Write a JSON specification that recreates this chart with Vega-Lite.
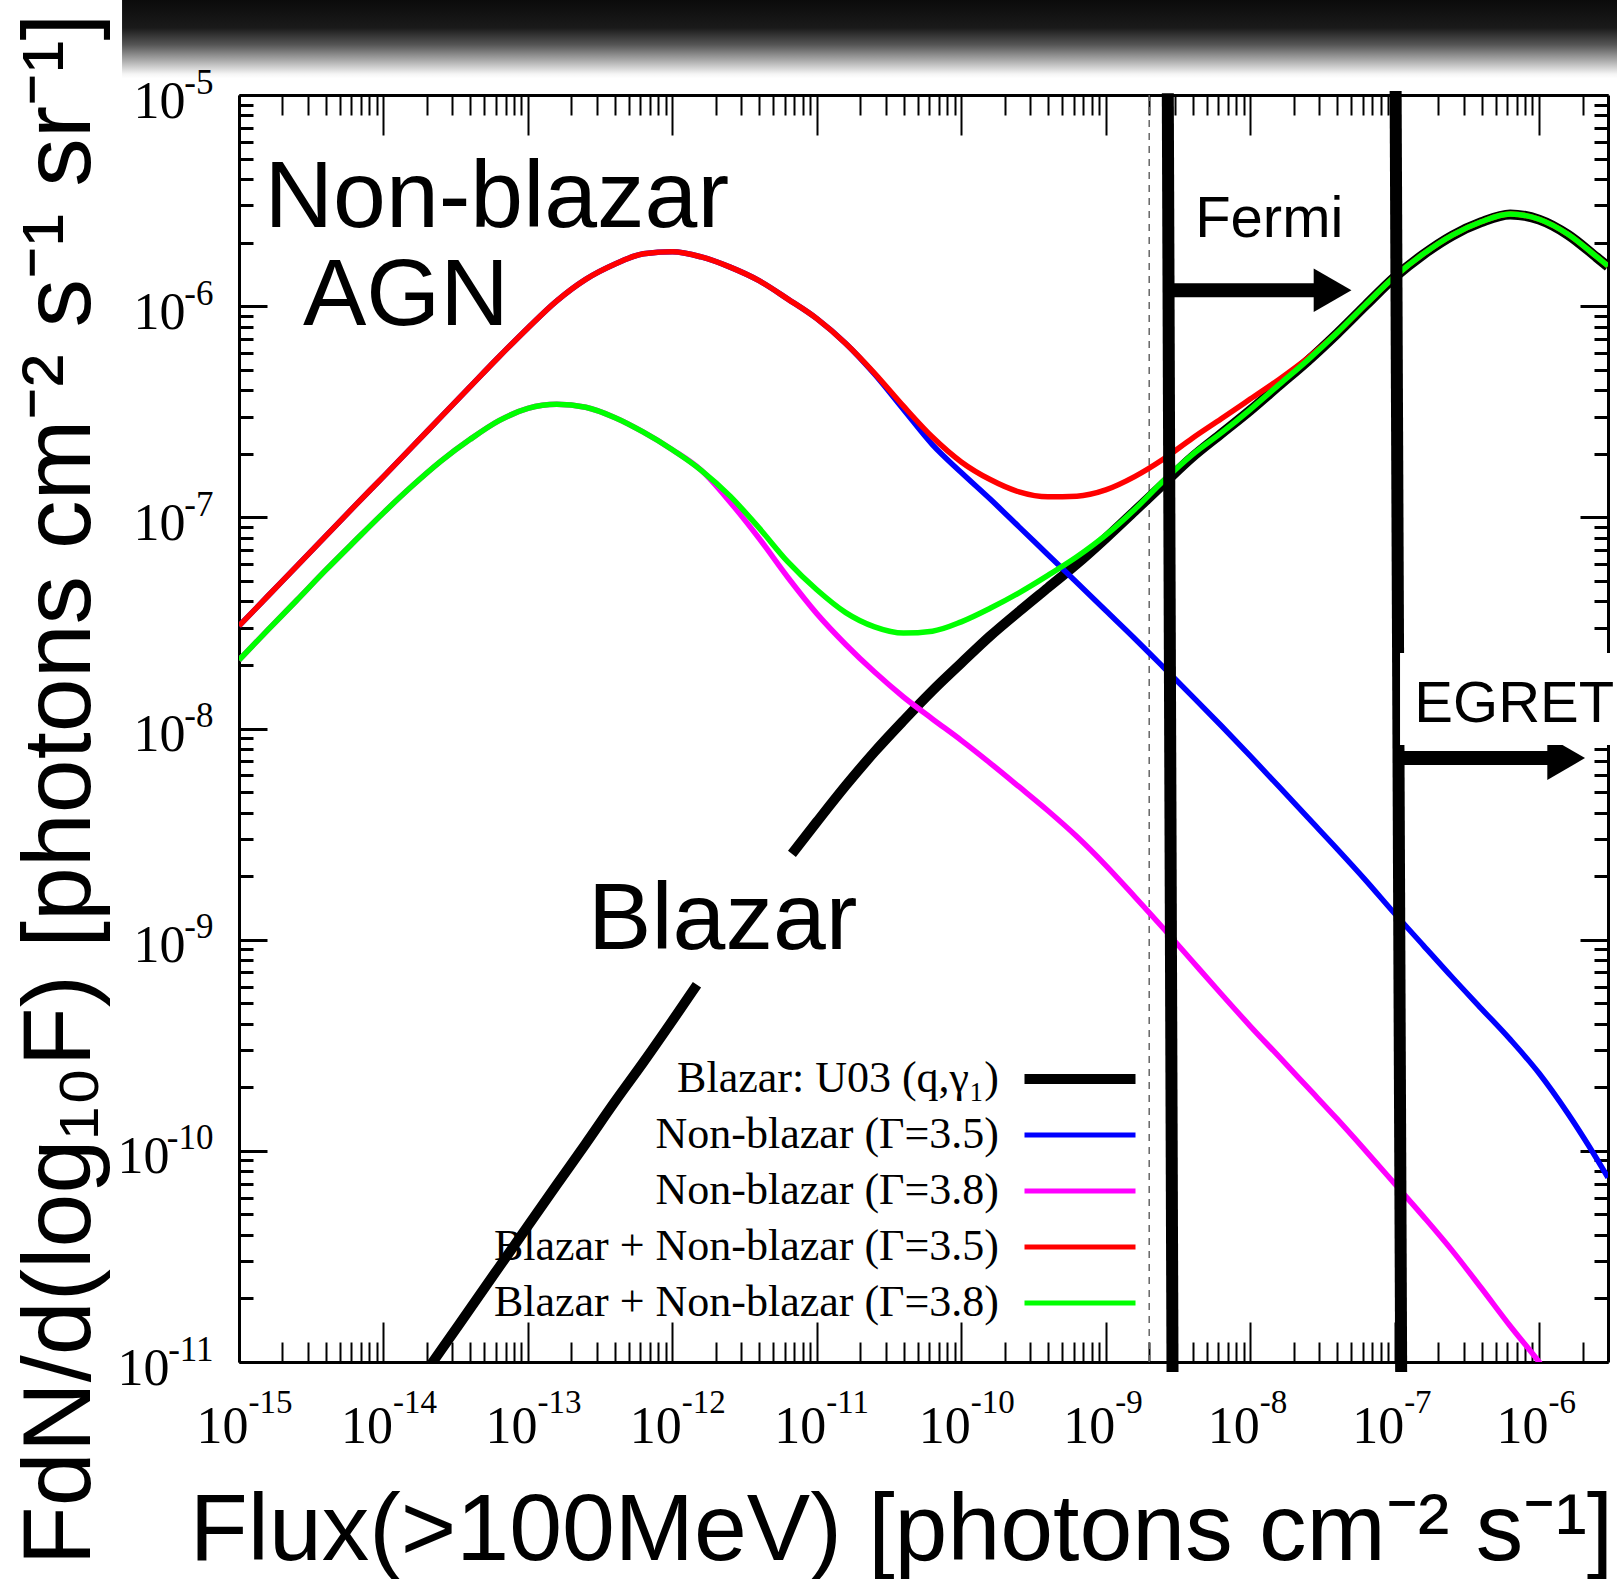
{
  "$schema": "https://vega.github.io/schema/vega-lite/v6.json",
  "width": 1369,
  "height": 1267,
  "autosize": "none",
  "padding": {"left": 239, "top": 95, "right": 9, "bottom": 217},
  "background": "white",
  "config": {
    "view": {"stroke": null},
    "axis": {"grid": false, "domainColor": "black", "tickColor": "black", "labelColor": "black", "titleColor": "black"}
  },
  "datasets": {
    "curves": [
      {"series": "Blazar: U03 (q,γ₁)", "seg": 1, "flux": 1.585e-14, "fdn": 7.29e-12},
      {"series": "Blazar: U03 (q,γ₁)", "seg": 1, "flux": 2.512e-14, "fdn": 1.14e-11},
      {"series": "Blazar: U03 (q,γ₁)", "seg": 1, "flux": 3.981e-14, "fdn": 1.79e-11},
      {"series": "Blazar: U03 (q,γ₁)", "seg": 1, "flux": 6.31e-14, "fdn": 2.81e-11},
      {"series": "Blazar: U03 (q,γ₁)", "seg": 1, "flux": 1e-13, "fdn": 4.41e-11},
      {"series": "Blazar: U03 (q,γ₁)", "seg": 1, "flux": 1.585e-13, "fdn": 6.91e-11},
      {"series": "Blazar: U03 (q,γ₁)", "seg": 1, "flux": 2.512e-13, "fdn": 1.08e-10},
      {"series": "Blazar: U03 (q,γ₁)", "seg": 1, "flux": 3.981e-13, "fdn": 1.7e-10},
      {"series": "Blazar: U03 (q,γ₁)", "seg": 1, "flux": 6.31e-13, "fdn": 2.63e-10},
      {"series": "Blazar: U03 (q,γ₁)", "seg": 1, "flux": 1e-12, "fdn": 4.13e-10},
      {"series": "Blazar: U03 (q,γ₁)", "seg": 1, "flux": 1.48e-12, "fdn": 6.12e-10},
      {"series": "Blazar: U03 (q,γ₁)", "seg": 2, "flux": 6.73e-12, "fdn": 2.55e-9},
      {"series": "Blazar: U03 (q,γ₁)", "seg": 2, "flux": 1e-11, "fdn": 3.61e-9},
      {"series": "Blazar: U03 (q,γ₁)", "seg": 2, "flux": 1.585e-11, "fdn": 5.36e-9},
      {"series": "Blazar: U03 (q,γ₁)", "seg": 2, "flux": 2.512e-11, "fdn": 7.76e-9},
      {"series": "Blazar: U03 (q,γ₁)", "seg": 2, "flux": 3.981e-11, "fdn": 1.09e-8},
      {"series": "Blazar: U03 (q,γ₁)", "seg": 2, "flux": 6.31e-11, "fdn": 1.51e-8},
      {"series": "Blazar: U03 (q,γ₁)", "seg": 2, "flux": 1e-10, "fdn": 2.04e-8},
      {"series": "Blazar: U03 (q,γ₁)", "seg": 2, "flux": 1.585e-10, "fdn": 2.74e-8},
      {"series": "Blazar: U03 (q,γ₁)", "seg": 2, "flux": 2.512e-10, "fdn": 3.58e-8},
      {"series": "Blazar: U03 (q,γ₁)", "seg": 2, "flux": 3.981e-10, "fdn": 4.64e-8},
      {"series": "Blazar: U03 (q,γ₁)", "seg": 2, "flux": 6.31e-10, "fdn": 6.01e-8},
      {"series": "Blazar: U03 (q,γ₁)", "seg": 2, "flux": 1e-9, "fdn": 7.96e-8},
      {"series": "Blazar: U03 (q,γ₁)", "seg": 2, "flux": 1.585e-9, "fdn": 1.07e-7},
      {"series": "Blazar: U03 (q,γ₁)", "seg": 2, "flux": 2.512e-9, "fdn": 1.44e-7},
      {"series": "Blazar: U03 (q,γ₁)", "seg": 2, "flux": 3.981e-9, "fdn": 1.93e-7},
      {"series": "Blazar: U03 (q,γ₁)", "seg": 2, "flux": 6.31e-9, "fdn": 2.49e-7},
      {"series": "Blazar: U03 (q,γ₁)", "seg": 2, "flux": 1e-8, "fdn": 3.21e-7},
      {"series": "Blazar: U03 (q,γ₁)", "seg": 2, "flux": 1.585e-8, "fdn": 4.21e-7},
      {"series": "Blazar: U03 (q,γ₁)", "seg": 2, "flux": 2.512e-8, "fdn": 5.52e-7},
      {"series": "Blazar: U03 (q,γ₁)", "seg": 2, "flux": 3.981e-8, "fdn": 7.4e-7},
      {"series": "Blazar: U03 (q,γ₁)", "seg": 2, "flux": 6.31e-8, "fdn": 1.01e-6},
      {"series": "Blazar: U03 (q,γ₁)", "seg": 2, "flux": 1e-7, "fdn": 1.37e-6},
      {"series": "Blazar: U03 (q,γ₁)", "seg": 2, "flux": 1.585e-7, "fdn": 1.76e-6},
      {"series": "Blazar: U03 (q,γ₁)", "seg": 2, "flux": 2.512e-7, "fdn": 2.16e-6},
      {"series": "Blazar: U03 (q,γ₁)", "seg": 2, "flux": 3.981e-7, "fdn": 2.5e-6},
      {"series": "Blazar: U03 (q,γ₁)", "seg": 2, "flux": 6.31e-7, "fdn": 2.72e-6},
      {"series": "Blazar: U03 (q,γ₁)", "seg": 2, "flux": 1e-6, "fdn": 2.57e-6},
      {"series": "Blazar: U03 (q,γ₁)", "seg": 2, "flux": 1.585e-6, "fdn": 2.18e-6},
      {"series": "Blazar: U03 (q,γ₁)", "seg": 2, "flux": 2.512e-6, "fdn": 1.7e-6},
      {"series": "Blazar: U03 (q,γ₁)", "seg": 2, "flux": 3e-6, "fdn": 1.54e-6},

      {"series": "Non-blazar (Γ=3.5)", "flux": 1e-15, "fdn": 3.06e-8},
      {"series": "Non-blazar (Γ=3.5)", "flux": 1.585e-15, "fdn": 4.24e-8},
      {"series": "Non-blazar (Γ=3.5)", "flux": 2.512e-15, "fdn": 5.87e-8},
      {"series": "Non-blazar (Γ=3.5)", "flux": 3.981e-15, "fdn": 8.14e-8},
      {"series": "Non-blazar (Γ=3.5)", "flux": 6.31e-15, "fdn": 1.13e-7},
      {"series": "Non-blazar (Γ=3.5)", "flux": 1e-14, "fdn": 1.56e-7},
      {"series": "Non-blazar (Γ=3.5)", "flux": 1.585e-14, "fdn": 2.16e-7},
      {"series": "Non-blazar (Γ=3.5)", "flux": 2.512e-14, "fdn": 3.0e-7},
      {"series": "Non-blazar (Γ=3.5)", "flux": 3.981e-14, "fdn": 4.16e-7},
      {"series": "Non-blazar (Γ=3.5)", "flux": 6.31e-14, "fdn": 5.76e-7},
      {"series": "Non-blazar (Γ=3.5)", "flux": 1e-13, "fdn": 7.89e-7},
      {"series": "Non-blazar (Γ=3.5)", "flux": 1.585e-13, "fdn": 1.06e-6},
      {"series": "Non-blazar (Γ=3.5)", "flux": 2.512e-13, "fdn": 1.34e-6},
      {"series": "Non-blazar (Γ=3.5)", "flux": 3.981e-13, "fdn": 1.58e-6},
      {"series": "Non-blazar (Γ=3.5)", "flux": 6.31e-13, "fdn": 1.77e-6},
      {"series": "Non-blazar (Γ=3.5)", "flux": 1e-12, "fdn": 1.81e-6},
      {"series": "Non-blazar (Γ=3.5)", "flux": 1.585e-12, "fdn": 1.71e-6},
      {"series": "Non-blazar (Γ=3.5)", "flux": 2.512e-12, "fdn": 1.53e-6},
      {"series": "Non-blazar (Γ=3.5)", "flux": 3.981e-12, "fdn": 1.32e-6},
      {"series": "Non-blazar (Γ=3.5)", "flux": 6.31e-12, "fdn": 1.08e-6},
      {"series": "Non-blazar (Γ=3.5)", "flux": 1e-11, "fdn": 8.73e-7},
      {"series": "Non-blazar (Γ=3.5)", "flux": 1.585e-11, "fdn": 6.66e-7},
      {"series": "Non-blazar (Γ=3.5)", "flux": 2.512e-11, "fdn": 4.76e-7},
      {"series": "Non-blazar (Γ=3.5)", "flux": 3.981e-11, "fdn": 3.24e-7},
      {"series": "Non-blazar (Γ=3.5)", "flux": 6.31e-11, "fdn": 2.21e-7},
      {"series": "Non-blazar (Γ=3.5)", "flux": 1e-10, "fdn": 1.63e-7},
      {"series": "Non-blazar (Γ=3.5)", "flux": 1.585e-10, "fdn": 1.22e-7},
      {"series": "Non-blazar (Γ=3.5)", "flux": 2.512e-10, "fdn": 9.01e-8},
      {"series": "Non-blazar (Γ=3.5)", "flux": 3.981e-10, "fdn": 6.65e-8},
      {"series": "Non-blazar (Γ=3.5)", "flux": 6.31e-10, "fdn": 4.91e-8},
      {"series": "Non-blazar (Γ=3.5)", "flux": 1e-9, "fdn": 3.62e-8},
      {"series": "Non-blazar (Γ=3.5)", "flux": 1.585e-9, "fdn": 2.67e-8},
      {"series": "Non-blazar (Γ=3.5)", "flux": 2.512e-9, "fdn": 1.95e-8},
      {"series": "Non-blazar (Γ=3.5)", "flux": 3.981e-9, "fdn": 1.42e-8},
      {"series": "Non-blazar (Γ=3.5)", "flux": 6.31e-9, "fdn": 1.03e-8},
      {"series": "Non-blazar (Γ=3.5)", "flux": 1e-8, "fdn": 7.42e-9},
      {"series": "Non-blazar (Γ=3.5)", "flux": 1.585e-8, "fdn": 5.3e-9},
      {"series": "Non-blazar (Γ=3.5)", "flux": 2.512e-8, "fdn": 3.78e-9},
      {"series": "Non-blazar (Γ=3.5)", "flux": 3.981e-8, "fdn": 2.7e-9},
      {"series": "Non-blazar (Γ=3.5)", "flux": 6.31e-8, "fdn": 1.91e-9},
      {"series": "Non-blazar (Γ=3.5)", "flux": 1e-7, "fdn": 1.33e-9},
      {"series": "Non-blazar (Γ=3.5)", "flux": 1.585e-7, "fdn": 9.38e-10},
      {"series": "Non-blazar (Γ=3.5)", "flux": 2.512e-7, "fdn": 6.62e-10},
      {"series": "Non-blazar (Γ=3.5)", "flux": 3.981e-7, "fdn": 4.72e-10},
      {"series": "Non-blazar (Γ=3.5)", "flux": 6.31e-7, "fdn": 3.37e-10},
      {"series": "Non-blazar (Γ=3.5)", "flux": 1e-6, "fdn": 2.33e-10},
      {"series": "Non-blazar (Γ=3.5)", "flux": 1.585e-6, "fdn": 1.5e-10},
      {"series": "Non-blazar (Γ=3.5)", "flux": 2.512e-6, "fdn": 9.15e-11},
      {"series": "Non-blazar (Γ=3.5)", "flux": 3e-6, "fdn": 7.47e-11},

      {"series": "Non-blazar (Γ=3.8)", "flux": 1e-15, "fdn": 2.11e-8},
      {"series": "Non-blazar (Γ=3.8)", "flux": 1.585e-15, "fdn": 2.93e-8},
      {"series": "Non-blazar (Γ=3.8)", "flux": 2.512e-15, "fdn": 4.05e-8},
      {"series": "Non-blazar (Γ=3.8)", "flux": 3.981e-15, "fdn": 5.62e-8},
      {"series": "Non-blazar (Γ=3.8)", "flux": 6.31e-15, "fdn": 7.7e-8},
      {"series": "Non-blazar (Γ=3.8)", "flux": 1e-14, "fdn": 1.05e-7},
      {"series": "Non-blazar (Γ=3.8)", "flux": 1.585e-14, "fdn": 1.41e-7},
      {"series": "Non-blazar (Γ=3.8)", "flux": 2.512e-14, "fdn": 1.85e-7},
      {"series": "Non-blazar (Γ=3.8)", "flux": 3.981e-14, "fdn": 2.34e-7},
      {"series": "Non-blazar (Γ=3.8)", "flux": 6.31e-14, "fdn": 2.87e-7},
      {"series": "Non-blazar (Γ=3.8)", "flux": 1e-13, "fdn": 3.28e-7},
      {"series": "Non-blazar (Γ=3.8)", "flux": 1.585e-13, "fdn": 3.43e-7},
      {"series": "Non-blazar (Γ=3.8)", "flux": 2.512e-13, "fdn": 3.32e-7},
      {"series": "Non-blazar (Γ=3.8)", "flux": 3.981e-13, "fdn": 2.97e-7},
      {"series": "Non-blazar (Γ=3.8)", "flux": 6.31e-13, "fdn": 2.53e-7},
      {"series": "Non-blazar (Γ=3.8)", "flux": 1e-12, "fdn": 2.09e-7},
      {"series": "Non-blazar (Γ=3.8)", "flux": 1.585e-12, "fdn": 1.67e-7},
      {"series": "Non-blazar (Γ=3.8)", "flux": 2.512e-12, "fdn": 1.18e-7},
      {"series": "Non-blazar (Γ=3.8)", "flux": 3.981e-12, "fdn": 7.96e-8},
      {"series": "Non-blazar (Γ=3.8)", "flux": 6.31e-12, "fdn": 5.19e-8},
      {"series": "Non-blazar (Γ=3.8)", "flux": 1e-11, "fdn": 3.5e-8},
      {"series": "Non-blazar (Γ=3.8)", "flux": 1.585e-11, "fdn": 2.5e-8},
      {"series": "Non-blazar (Γ=3.8)", "flux": 2.512e-11, "fdn": 1.85e-8},
      {"series": "Non-blazar (Γ=3.8)", "flux": 3.981e-11, "fdn": 1.41e-8},
      {"series": "Non-blazar (Γ=3.8)", "flux": 6.31e-11, "fdn": 1.11e-8},
      {"series": "Non-blazar (Γ=3.8)", "flux": 1e-10, "fdn": 8.79e-9},
      {"series": "Non-blazar (Γ=3.8)", "flux": 1.585e-10, "fdn": 6.86e-9},
      {"series": "Non-blazar (Γ=3.8)", "flux": 2.512e-10, "fdn": 5.3e-9},
      {"series": "Non-blazar (Γ=3.8)", "flux": 3.981e-10, "fdn": 4.08e-9},
      {"series": "Non-blazar (Γ=3.8)", "flux": 6.31e-10, "fdn": 3.08e-9},
      {"series": "Non-blazar (Γ=3.8)", "flux": 1e-9, "fdn": 2.25e-9},
      {"series": "Non-blazar (Γ=3.8)", "flux": 1.585e-9, "fdn": 1.6e-9},
      {"series": "Non-blazar (Γ=3.8)", "flux": 2.512e-9, "fdn": 1.13e-9},
      {"series": "Non-blazar (Γ=3.8)", "flux": 3.981e-9, "fdn": 7.9e-10},
      {"series": "Non-blazar (Γ=3.8)", "flux": 6.31e-9, "fdn": 5.53e-10},
      {"series": "Non-blazar (Γ=3.8)", "flux": 1e-8, "fdn": 3.9e-10},
      {"series": "Non-blazar (Γ=3.8)", "flux": 1.585e-8, "fdn": 2.79e-10},
      {"series": "Non-blazar (Γ=3.8)", "flux": 2.512e-8, "fdn": 1.99e-10},
      {"series": "Non-blazar (Γ=3.8)", "flux": 3.981e-8, "fdn": 1.42e-10},
      {"series": "Non-blazar (Γ=3.8)", "flux": 6.31e-8, "fdn": 1.0e-10},
      {"series": "Non-blazar (Γ=3.8)", "flux": 1e-7, "fdn": 6.99e-11},
      {"series": "Non-blazar (Γ=3.8)", "flux": 1.585e-7, "fdn": 4.88e-11},
      {"series": "Non-blazar (Γ=3.8)", "flux": 2.512e-7, "fdn": 3.36e-11},
      {"series": "Non-blazar (Γ=3.8)", "flux": 3.981e-7, "fdn": 2.24e-11},
      {"series": "Non-blazar (Γ=3.8)", "flux": 6.31e-7, "fdn": 1.48e-11},
      {"series": "Non-blazar (Γ=3.8)", "flux": 1e-6, "fdn": 1.0e-11},
      {"series": "Non-blazar (Γ=3.8)", "flux": 1.585e-6, "fdn": 6.5e-12},

      {"series": "Blazar + Non-blazar (Γ=3.5)", "flux": 1e-15, "fdn": 3.06e-8},
      {"series": "Blazar + Non-blazar (Γ=3.5)", "flux": 1.585e-15, "fdn": 4.24e-8},
      {"series": "Blazar + Non-blazar (Γ=3.5)", "flux": 2.512e-15, "fdn": 5.87e-8},
      {"series": "Blazar + Non-blazar (Γ=3.5)", "flux": 3.981e-15, "fdn": 8.14e-8},
      {"series": "Blazar + Non-blazar (Γ=3.5)", "flux": 6.31e-15, "fdn": 1.13e-7},
      {"series": "Blazar + Non-blazar (Γ=3.5)", "flux": 1e-14, "fdn": 1.56e-7},
      {"series": "Blazar + Non-blazar (Γ=3.5)", "flux": 1.585e-14, "fdn": 2.16e-7},
      {"series": "Blazar + Non-blazar (Γ=3.5)", "flux": 2.512e-14, "fdn": 3.0e-7},
      {"series": "Blazar + Non-blazar (Γ=3.5)", "flux": 3.981e-14, "fdn": 4.16e-7},
      {"series": "Blazar + Non-blazar (Γ=3.5)", "flux": 6.31e-14, "fdn": 5.76e-7},
      {"series": "Blazar + Non-blazar (Γ=3.5)", "flux": 1e-13, "fdn": 7.89e-7},
      {"series": "Blazar + Non-blazar (Γ=3.5)", "flux": 1.585e-13, "fdn": 1.06e-6},
      {"series": "Blazar + Non-blazar (Γ=3.5)", "flux": 2.512e-13, "fdn": 1.34e-6},
      {"series": "Blazar + Non-blazar (Γ=3.5)", "flux": 3.981e-13, "fdn": 1.58e-6},
      {"series": "Blazar + Non-blazar (Γ=3.5)", "flux": 6.31e-13, "fdn": 1.77e-6},
      {"series": "Blazar + Non-blazar (Γ=3.5)", "flux": 1e-12, "fdn": 1.81e-6},
      {"series": "Blazar + Non-blazar (Γ=3.5)", "flux": 1.585e-12, "fdn": 1.71e-6},
      {"series": "Blazar + Non-blazar (Γ=3.5)", "flux": 2.512e-12, "fdn": 1.53e-6},
      {"series": "Blazar + Non-blazar (Γ=3.5)", "flux": 3.981e-12, "fdn": 1.32e-6},
      {"series": "Blazar + Non-blazar (Γ=3.5)", "flux": 6.31e-12, "fdn": 1.08e-6},
      {"series": "Blazar + Non-blazar (Γ=3.5)", "flux": 1e-11, "fdn": 8.73e-7},
      {"series": "Blazar + Non-blazar (Γ=3.5)", "flux": 1.585e-11, "fdn": 6.66e-7},
      {"series": "Blazar + Non-blazar (Γ=3.5)", "flux": 2.512e-11, "fdn": 4.81e-7},
      {"series": "Blazar + Non-blazar (Γ=3.5)", "flux": 3.981e-11, "fdn": 3.36e-7},
      {"series": "Blazar + Non-blazar (Γ=3.5)", "flux": 6.31e-11, "fdn": 2.4e-7},
      {"series": "Blazar + Non-blazar (Γ=3.5)", "flux": 1e-10, "fdn": 1.83e-7},
      {"series": "Blazar + Non-blazar (Γ=3.5)", "flux": 1.585e-10, "fdn": 1.51e-7},
      {"series": "Blazar + Non-blazar (Γ=3.5)", "flux": 2.512e-10, "fdn": 1.32e-7},
      {"series": "Blazar + Non-blazar (Γ=3.5)", "flux": 3.981e-10, "fdn": 1.25e-7},
      {"series": "Blazar + Non-blazar (Γ=3.5)", "flux": 6.31e-10, "fdn": 1.26e-7},
      {"series": "Blazar + Non-blazar (Γ=3.5)", "flux": 1e-9, "fdn": 1.35e-7},
      {"series": "Blazar + Non-blazar (Γ=3.5)", "flux": 1.585e-9, "fdn": 1.56e-7},
      {"series": "Blazar + Non-blazar (Γ=3.5)", "flux": 2.512e-9, "fdn": 1.89e-7},
      {"series": "Blazar + Non-blazar (Γ=3.5)", "flux": 3.981e-9, "fdn": 2.37e-7},
      {"series": "Blazar + Non-blazar (Γ=3.5)", "flux": 6.31e-9, "fdn": 2.93e-7},
      {"series": "Blazar + Non-blazar (Γ=3.5)", "flux": 1e-8, "fdn": 3.63e-7},
      {"series": "Blazar + Non-blazar (Γ=3.5)", "flux": 1.585e-8, "fdn": 4.5e-7},
      {"series": "Blazar + Non-blazar (Γ=3.5)", "flux": 2.512e-8, "fdn": 5.69e-7},
      {"series": "Blazar + Non-blazar (Γ=3.5)", "flux": 3.981e-8, "fdn": 7.46e-7},
      {"series": "Blazar + Non-blazar (Γ=3.5)", "flux": 6.31e-8, "fdn": 1.02e-6},
      {"series": "Blazar + Non-blazar (Γ=3.5)", "flux": 1e-7, "fdn": 1.38e-6},
      {"series": "Blazar + Non-blazar (Γ=3.5)", "flux": 1.585e-7, "fdn": 1.77e-6},
      {"series": "Blazar + Non-blazar (Γ=3.5)", "flux": 2.512e-7, "fdn": 2.17e-6},
      {"series": "Blazar + Non-blazar (Γ=3.5)", "flux": 3.981e-7, "fdn": 2.51e-6},
      {"series": "Blazar + Non-blazar (Γ=3.5)", "flux": 6.31e-7, "fdn": 2.73e-6},
      {"series": "Blazar + Non-blazar (Γ=3.5)", "flux": 1e-6, "fdn": 2.58e-6},
      {"series": "Blazar + Non-blazar (Γ=3.5)", "flux": 1.585e-6, "fdn": 2.19e-6},
      {"series": "Blazar + Non-blazar (Γ=3.5)", "flux": 2.512e-6, "fdn": 1.71e-6},
      {"series": "Blazar + Non-blazar (Γ=3.5)", "flux": 3e-6, "fdn": 1.55e-6},

      {"series": "Blazar + Non-blazar (Γ=3.8)", "flux": 1e-15, "fdn": 2.11e-8},
      {"series": "Blazar + Non-blazar (Γ=3.8)", "flux": 1.585e-15, "fdn": 2.93e-8},
      {"series": "Blazar + Non-blazar (Γ=3.8)", "flux": 2.512e-15, "fdn": 4.05e-8},
      {"series": "Blazar + Non-blazar (Γ=3.8)", "flux": 3.981e-15, "fdn": 5.62e-8},
      {"series": "Blazar + Non-blazar (Γ=3.8)", "flux": 6.31e-15, "fdn": 7.7e-8},
      {"series": "Blazar + Non-blazar (Γ=3.8)", "flux": 1e-14, "fdn": 1.05e-7},
      {"series": "Blazar + Non-blazar (Γ=3.8)", "flux": 1.585e-14, "fdn": 1.41e-7},
      {"series": "Blazar + Non-blazar (Γ=3.8)", "flux": 2.512e-14, "fdn": 1.85e-7},
      {"series": "Blazar + Non-blazar (Γ=3.8)", "flux": 3.981e-14, "fdn": 2.34e-7},
      {"series": "Blazar + Non-blazar (Γ=3.8)", "flux": 6.31e-14, "fdn": 2.87e-7},
      {"series": "Blazar + Non-blazar (Γ=3.8)", "flux": 1e-13, "fdn": 3.28e-7},
      {"series": "Blazar + Non-blazar (Γ=3.8)", "flux": 1.585e-13, "fdn": 3.43e-7},
      {"series": "Blazar + Non-blazar (Γ=3.8)", "flux": 2.512e-13, "fdn": 3.32e-7},
      {"series": "Blazar + Non-blazar (Γ=3.8)", "flux": 3.981e-13, "fdn": 2.97e-7},
      {"series": "Blazar + Non-blazar (Γ=3.8)", "flux": 6.31e-13, "fdn": 2.53e-7},
      {"series": "Blazar + Non-blazar (Γ=3.8)", "flux": 1e-12, "fdn": 2.09e-7},
      {"series": "Blazar + Non-blazar (Γ=3.8)", "flux": 1.585e-12, "fdn": 1.67e-7},
      {"series": "Blazar + Non-blazar (Γ=3.8)", "flux": 2.512e-12, "fdn": 1.26e-7},
      {"series": "Blazar + Non-blazar (Γ=3.8)", "flux": 3.981e-12, "fdn": 8.91e-8},
      {"series": "Blazar + Non-blazar (Γ=3.8)", "flux": 6.31e-12, "fdn": 6.15e-8},
      {"series": "Blazar + Non-blazar (Γ=3.8)", "flux": 1e-11, "fdn": 4.54e-8},
      {"series": "Blazar + Non-blazar (Γ=3.8)", "flux": 1.585e-11, "fdn": 3.54e-8},
      {"series": "Blazar + Non-blazar (Γ=3.8)", "flux": 2.512e-11, "fdn": 3.03e-8},
      {"series": "Blazar + Non-blazar (Γ=3.8)", "flux": 3.981e-11, "fdn": 2.83e-8},
      {"series": "Blazar + Non-blazar (Γ=3.8)", "flux": 6.31e-11, "fdn": 2.89e-8},
      {"series": "Blazar + Non-blazar (Γ=3.8)", "flux": 1e-10, "fdn": 3.2e-8},
      {"series": "Blazar + Non-blazar (Γ=3.8)", "flux": 1.585e-10, "fdn": 3.71e-8},
      {"series": "Blazar + Non-blazar (Γ=3.8)", "flux": 2.512e-10, "fdn": 4.39e-8},
      {"series": "Blazar + Non-blazar (Γ=3.8)", "flux": 3.981e-10, "fdn": 5.31e-8},
      {"series": "Blazar + Non-blazar (Γ=3.8)", "flux": 6.31e-10, "fdn": 6.5e-8},
      {"series": "Blazar + Non-blazar (Γ=3.8)", "flux": 1e-9, "fdn": 8.23e-8},
      {"series": "Blazar + Non-blazar (Γ=3.8)", "flux": 1.585e-9, "fdn": 1.09e-7},
      {"series": "Blazar + Non-blazar (Γ=3.8)", "flux": 2.512e-9, "fdn": 1.49e-7},
      {"series": "Blazar + Non-blazar (Γ=3.8)", "flux": 3.981e-9, "fdn": 1.98e-7},
      {"series": "Blazar + Non-blazar (Γ=3.8)", "flux": 6.31e-9, "fdn": 2.51e-7},
      {"series": "Blazar + Non-blazar (Γ=3.8)", "flux": 1e-8, "fdn": 3.24e-7},
      {"series": "Blazar + Non-blazar (Γ=3.8)", "flux": 1.585e-8, "fdn": 4.25e-7},
      {"series": "Blazar + Non-blazar (Γ=3.8)", "flux": 2.512e-8, "fdn": 5.57e-7},
      {"series": "Blazar + Non-blazar (Γ=3.8)", "flux": 3.981e-8, "fdn": 7.46e-7},
      {"series": "Blazar + Non-blazar (Γ=3.8)", "flux": 6.31e-8, "fdn": 1.02e-6},
      {"series": "Blazar + Non-blazar (Γ=3.8)", "flux": 1e-7, "fdn": 1.38e-6},
      {"series": "Blazar + Non-blazar (Γ=3.8)", "flux": 1.585e-7, "fdn": 1.77e-6},
      {"series": "Blazar + Non-blazar (Γ=3.8)", "flux": 2.512e-7, "fdn": 2.17e-6},
      {"series": "Blazar + Non-blazar (Γ=3.8)", "flux": 3.981e-7, "fdn": 2.51e-6},
      {"series": "Blazar + Non-blazar (Γ=3.8)", "flux": 6.31e-7, "fdn": 2.73e-6},
      {"series": "Blazar + Non-blazar (Γ=3.8)", "flux": 1e-6, "fdn": 2.58e-6},
      {"series": "Blazar + Non-blazar (Γ=3.8)", "flux": 1.585e-6, "fdn": 2.19e-6},
      {"series": "Blazar + Non-blazar (Γ=3.8)", "flux": 2.512e-6, "fdn": 1.71e-6},
      {"series": "Blazar + Non-blazar (Γ=3.8)", "flux": 3e-6, "fdn": 1.55e-6}
    ]
  },
  "layer": [
    {
      "description": "slide header band above the frame",
      "data": {"values": [{"flux": 1.55e-16, "flux2": 1e-5, "fdn": 3e-5, "fdn2": 1.2e-5}]},
      "mark": {"type": "rect", "clip": false, "fill": {"gradient": "linear", "x1": 0, "y1": 0, "x2": 0, "y2": 1, "stops": [{"offset": 0, "color": "#080808"}, {"offset": 0.4, "color": "#1a1a1a"}, {"offset": 0.6, "color": "#555555"}, {"offset": 0.8, "color": "#b0b0b0"}, {"offset": 0.95, "color": "#f5f5f5"}, {"offset": 1, "color": "#ffffff"}]}},
      "encoding": {
        "x": {"field": "flux", "type": "quantitative", "scale": {"type": "log", "domain": [1e-15, 3e-6], "nice": false}, "axis": null},
        "x2": {"field": "flux2"},
        "y": {"field": "fdn", "type": "quantitative", "scale": {"type": "log", "domain": [1e-11, 1e-5], "nice": false}, "axis": null},
        "y2": {"field": "fdn2"}
      }
    },
    {
      "description": "dashed reference flux",
      "data": {"values": [{"flux": 2e-9, "fdn": 1e-11, "fdn2": 1e-5}]},
      "mark": {"type": "rule", "color": "#666666", "strokeWidth": 1.5, "strokeDash": [7, 6]},
      "encoding": {
        "x": {"field": "flux", "type": "quantitative", "scale": {"type": "log", "domain": [1e-15, 3e-6], "nice": false}, "axis": null},
        "y": {"field": "fdn", "type": "quantitative", "scale": {"type": "log", "domain": [1e-11, 1e-5], "nice": false}, "axis": null},
        "y2": {"field": "fdn2"}
      }
    },
    {
      "description": "blazar curve; carries the labelled bottom and left axes (mantissa part)",
      "data": {"name": "curves"},
      "transform": [{"filter": {"field": "series", "equal": "Blazar: U03 (q,γ₁)"}}],
      "mark": {"type": "line", "color": "#000000", "strokeWidth": 10, "clip": true, "interpolate": "monotone", "strokeCap": "butt"},
      "encoding": {
        "x": {
          "field": "flux", "type": "quantitative",
          "scale": {"type": "log", "domain": [1e-15, 3e-6], "nice": false},
          "axis": {
            "orient": "bottom",
            "values": [1e-15,2e-15,3e-15,4e-15,5e-15,6e-15,7e-15,8e-15,9e-15,1e-14,2e-14,3e-14,4e-14,5e-14,6e-14,7e-14,8e-14,9e-14,1e-13,2e-13,3e-13,4e-13,5e-13,6e-13,7e-13,8e-13,9e-13,1e-12,2e-12,3e-12,4e-12,5e-12,6e-12,7e-12,8e-12,9e-12,1e-11,2e-11,3e-11,4e-11,5e-11,6e-11,7e-11,8e-11,9e-11,1e-10,2e-10,3e-10,4e-10,5e-10,6e-10,7e-10,8e-10,9e-10,1e-9,2e-9,3e-9,4e-9,5e-9,6e-9,7e-9,8e-9,9e-9,1e-8,2e-8,3e-8,4e-8,5e-8,6e-8,7e-8,8e-8,9e-8,1e-7,2e-7,3e-7,4e-7,5e-7,6e-7,7e-7,8e-7,9e-7,1e-6,2e-6],
            "tickSize": {"condition": {"test": "abs(log(datum.value)/LN10 - round(log(datum.value)/LN10)) < 0.01", "value": -40}, "value": -20},
            "tickWidth": 2,
            "domainWidth": 3,
            "labelExpr": "abs(log(datum.value)/LN10 - round(log(datum.value)/LN10)) < 0.01 ? '10' : ''",
            "labelFont": "Liberation Serif",
            "labelFontSize": 52,
            "labelAlign": "right",
            "labelBaseline": "alphabetic",
            "labelPadding": 120,
            "labelOffset": 9,
            "labelFlush": false,
            "labelOverlap": false,
            "labelBound": false,
            "title": "Flux(>100MeV) [photons cm⁻² s⁻¹]",
            "titleFont": "Liberation Sans",
            "titleFontSize": 95,
            "titleFontWeight": "normal",
            "titleX": 662,
            "titleY": 197,
            "titleBaseline": "alphabetic",
            "titleAlign": "center"
          }
        },
        "y": {
          "field": "fdn", "type": "quantitative",
          "scale": {"type": "log", "domain": [1e-11, 1e-5], "nice": false},
          "axis": {
            "orient": "left",
            "values": [1e-11,2e-11,3e-11,4e-11,5e-11,6e-11,7e-11,8e-11,9e-11,1e-10,2e-10,3e-10,4e-10,5e-10,6e-10,7e-10,8e-10,9e-10,1e-9,2e-9,3e-9,4e-9,5e-9,6e-9,7e-9,8e-9,9e-9,1e-8,2e-8,3e-8,4e-8,5e-8,6e-8,7e-8,8e-8,9e-8,1e-7,2e-7,3e-7,4e-7,5e-7,6e-7,7e-7,8e-7,9e-7,1e-6,2e-6,3e-6,4e-6,5e-6,6e-6,7e-6,8e-6,9e-6,1e-5],
            "tickSize": {"condition": {"test": "abs(log(datum.value)/LN10 - round(log(datum.value)/LN10)) < 0.01", "value": -28}, "value": -14},
            "tickWidth": 3,
            "domainWidth": 3,
            "labelExpr": "abs(log(datum.value)/LN10 - round(log(datum.value)/LN10)) < 0.01 ? '10' : ''",
            "labelFont": "Liberation Serif",
            "labelFontSize": 52,
            "labelBaseline": "alphabetic",
            "labelAlign": "right",
            "labelOffset": 22,
            "labelPadding": {"condition": {"test": "datum.value < 3e-10", "value": 98}, "value": 82},
            "labelFlush": false,
            "labelOverlap": false,
            "labelBound": false,
            "title": "FdN/d(log₁₀F) [photons cm⁻² s⁻¹ sr⁻¹]",
            "titleFont": "Liberation Sans",
            "titleFontSize": 97,
            "titleFontWeight": "normal",
            "titleAngle": 270,
            "titleX": -150,
            "titleY": 694,
            "titleBaseline": "alphabetic",
            "titleAlign": "center"
          }
        },
        "detail": {"field": "seg"}
      }
    },
    {
      "description": "non-blazar 3.5 curve; carries the tick-only top and right axes and the legend",
      "data": {"name": "curves"},
      "transform": [{"filter": {"field": "series", "equal": "Non-blazar (Γ=3.5)"}}],
      "mark": {"type": "line", "strokeWidth": 5.5, "clip": true, "interpolate": "monotone"},
      "encoding": {
        "x": {
          "field": "flux", "type": "quantitative",
          "scale": {"type": "log", "domain": [1e-15, 3e-6], "nice": false},
          "axis": {
            "orient": "top",
            "values": [1e-15,2e-15,3e-15,4e-15,5e-15,6e-15,7e-15,8e-15,9e-15,1e-14,2e-14,3e-14,4e-14,5e-14,6e-14,7e-14,8e-14,9e-14,1e-13,2e-13,3e-13,4e-13,5e-13,6e-13,7e-13,8e-13,9e-13,1e-12,2e-12,3e-12,4e-12,5e-12,6e-12,7e-12,8e-12,9e-12,1e-11,2e-11,3e-11,4e-11,5e-11,6e-11,7e-11,8e-11,9e-11,1e-10,2e-10,3e-10,4e-10,5e-10,6e-10,7e-10,8e-10,9e-10,1e-9,2e-9,3e-9,4e-9,5e-9,6e-9,7e-9,8e-9,9e-9,1e-8,2e-8,3e-8,4e-8,5e-8,6e-8,7e-8,8e-8,9e-8,1e-7,2e-7,3e-7,4e-7,5e-7,6e-7,7e-7,8e-7,9e-7,1e-6,2e-6],
            "tickSize": {"condition": {"test": "abs(log(datum.value)/LN10 - round(log(datum.value)/LN10)) < 0.01", "value": -40}, "value": -20},
            "tickWidth": 2,
            "domainWidth": 3,
            "labels": false,
            "title": null
          }
        },
        "y": {
          "field": "fdn", "type": "quantitative",
          "scale": {"type": "log", "domain": [1e-11, 1e-5], "nice": false},
          "axis": {
            "orient": "right",
            "values": [1e-11,2e-11,3e-11,4e-11,5e-11,6e-11,7e-11,8e-11,9e-11,1e-10,2e-10,3e-10,4e-10,5e-10,6e-10,7e-10,8e-10,9e-10,1e-9,2e-9,3e-9,4e-9,5e-9,6e-9,7e-9,8e-9,9e-9,1e-8,2e-8,3e-8,4e-8,5e-8,6e-8,7e-8,8e-8,9e-8,1e-7,2e-7,3e-7,4e-7,5e-7,6e-7,7e-7,8e-7,9e-7,1e-6,2e-6,3e-6,4e-6,5e-6,6e-6,7e-6,8e-6,9e-6,1e-5],
            "tickSize": {"condition": {"test": "abs(log(datum.value)/LN10 - round(log(datum.value)/LN10)) < 0.01", "value": -28}, "value": -14},
            "tickWidth": 3,
            "domainWidth": 3,
            "labels": false,
            "title": null
          }
        },
        "color": {
          "field": "series", "type": "nominal",
          "scale": {"domain": ["Blazar: U03 (q,γ₁)", "Non-blazar (Γ=3.5)", "Non-blazar (Γ=3.8)", "Blazar + Non-blazar (Γ=3.5)", "Blazar + Non-blazar (Γ=3.8)"], "range": ["#000000", "#0000ff", "#ff00ff", "#ff0000", "#00ff00"]},
          "legend": {
            "orient": "none",
            "legendX": 819,
            "legendY": 962,
            "title": null,
            "padding": 0,
            "symbolType": "M-3,0H3",
            "symbolSize": 1369,
            "symbolStrokeWidth": {"expr": "datum.value === 'Blazar: U03 (q,γ₁)' ? 10 : 5"},
            "labelFont": "Liberation Serif",
            "labelFontSize": 44,
            "labelColor": "black",
            "labelAlign": "right",
            "labelOffset": -103,
            "labelLimit": 0,
            "rowPadding": 12
          }
        }
      }
    },
    {
      "description": "non-blazar 3.8 curve; carries the exponent labels of the bottom and left axes",
      "data": {"name": "curves"},
      "transform": [{"filter": {"field": "series", "equal": "Non-blazar (Γ=3.8)"}}],
      "mark": {"type": "line", "color": "#ff00ff", "strokeWidth": 5.5, "clip": true, "interpolate": "monotone"},
      "encoding": {
        "x": {
          "field": "flux", "type": "quantitative",
          "scale": {"type": "log", "domain": [1e-15, 3e-6], "nice": false},
          "axis": {
            "orient": "bottom",
            "zindex": 1,
            "values": [1e-15,1e-14,1e-13,1e-12,1e-11,1e-10,1e-9,1e-8,1e-7,1e-6],
            "ticks": false,
            "tickSize": 0,
            "domain": false,
            "labelExpr": "'-' + round(-log(datum.value)/LN10)",
            "labelFont": "Liberation Serif",
            "labelFontSize": 33,
            "labelAlign": "left",
            "labelBaseline": "alphabetic",
            "labelPadding": 50,
            "labelOffset": 9,
            "labelFlush": false,
            "labelOverlap": false,
            "labelBound": false,
            "title": null
          }
        },
        "y": {
          "field": "fdn", "type": "quantitative",
          "scale": {"type": "log", "domain": [1e-11, 1e-5], "nice": false},
          "axis": {
            "orient": "left",
            "zindex": 1,
            "values": [1e-11,1e-10,1e-9,1e-8,1e-7,1e-6,1e-5],
            "ticks": false,
            "tickSize": 0,
            "domain": false,
            "labelExpr": "'-' + round(-log(datum.value)/LN10)",
            "labelFont": "Liberation Serif",
            "labelFontSize": 35,
            "labelAlign": "right",
            "labelBaseline": "alphabetic",
            "labelPadding": 26,
            "labelOffset": -2,
            "labelFlush": false,
            "labelOverlap": false,
            "labelBound": false,
            "title": null
          }
        }
      }
    },
    {
      "data": {"name": "curves"},
      "transform": [{"filter": {"field": "series", "equal": "Blazar + Non-blazar (Γ=3.5)"}}],
      "mark": {"type": "line", "color": "#ff0000", "strokeWidth": 5.5, "clip": true, "interpolate": "monotone"},
      "encoding": {
        "x": {"field": "flux", "type": "quantitative", "scale": {"type": "log", "domain": [1e-15, 3e-6], "nice": false}, "axis": null},
        "y": {"field": "fdn", "type": "quantitative", "scale": {"type": "log", "domain": [1e-11, 1e-5], "nice": false}, "axis": null}
      }
    },
    {
      "data": {"name": "curves"},
      "transform": [{"filter": {"field": "series", "equal": "Blazar + Non-blazar (Γ=3.8)"}}],
      "mark": {"type": "line", "color": "#00ff00", "strokeWidth": 5.5, "clip": true, "interpolate": "monotone"},
      "encoding": {
        "x": {"field": "flux", "type": "quantitative", "scale": {"type": "log", "domain": [1e-15, 3e-6], "nice": false}, "axis": null},
        "y": {"field": "fdn", "type": "quantitative", "scale": {"type": "log", "domain": [1e-11, 1e-5], "nice": false}, "axis": null}
      }
    },
    {
      "description": "sensitivity limits of the two telescopes",
      "data": {"values": [
        {"instrument": "Fermi", "flux": 2.69e-9, "fdn": 1.02e-5},
        {"instrument": "Fermi", "flux": 2.9e-9, "fdn": 8.97e-12},
        {"instrument": "EGRET", "flux": 1.016e-7, "fdn": 1.045e-5},
        {"instrument": "EGRET", "flux": 1.11e-7, "fdn": 8.97e-12}
      ]},
      "mark": {"type": "line", "color": "black", "strokeWidth": 12, "clip": false, "strokeCap": "butt"},
      "encoding": {
        "x": {"field": "flux", "type": "quantitative", "scale": {"type": "log", "domain": [1e-15, 3e-6], "nice": false}, "axis": null},
        "y": {"field": "fdn", "type": "quantitative", "scale": {"type": "log", "domain": [1e-11, 1e-5], "nice": false}, "axis": null},
        "detail": {"field": "instrument"}
      }
    },
    {
      "description": "arrow shafts pointing to the detectable range",
      "data": {"values": [
        {"instrument": "Fermi", "flux": 2.7e-9, "head": 3.72e-8, "fdn": 1.19e-6},
        {"instrument": "EGRET", "flux": 1.09e-7, "head": 1.54e-6, "fdn": 7.24e-9}
      ]},
      "mark": {"type": "rule", "color": "black", "strokeWidth": 14, "clip": false},
      "encoding": {
        "x": {"field": "flux", "type": "quantitative", "scale": {"type": "log", "domain": [1e-15, 3e-6], "nice": false}, "axis": null},
        "x2": {"field": "head"},
        "y": {"field": "fdn", "type": "quantitative", "scale": {"type": "log", "domain": [1e-11, 1e-5], "nice": false}, "axis": null}
      }
    },
    {
      "description": "arrow heads",
      "data": {"values": [
        {"instrument": "Fermi", "head": 3.72e-8, "fdn": 1.19e-6},
        {"instrument": "EGRET", "head": 1.54e-6, "fdn": 7.24e-9}
      ]},
      "mark": {"type": "point", "shape": "triangle-right", "filled": true, "color": "black", "opacity": 1, "size": 1900, "clip": false},
      "encoding": {
        "x": {"field": "head", "type": "quantitative", "scale": {"type": "log", "domain": [1e-15, 3e-6], "nice": false}, "axis": null},
        "y": {"field": "fdn", "type": "quantitative", "scale": {"type": "log", "domain": [1e-11, 1e-5], "nice": false}, "axis": null}
      }
    },
    {
      "description": "white backing of the EGRET caption",
      "data": {"values": [{"flux": 1.09e-7, "flux2": 1e-5, "fdn": 2.28e-8, "fdn2": 8.35e-9}]},
      "mark": {"type": "rect", "fill": "white", "clip": false},
      "encoding": {
        "x": {"field": "flux", "type": "quantitative", "scale": {"type": "log", "domain": [1e-15, 3e-6], "nice": false}, "axis": null},
        "x2": {"field": "flux2"},
        "y": {"field": "fdn", "type": "quantitative", "scale": {"type": "log", "domain": [1e-11, 1e-5], "nice": false}, "axis": null},
        "y2": {"field": "fdn2"}
      }
    },
    {
      "description": "population captions",
      "data": {"values": [
        {"label": "Non-blazar", "flux": 1.5e-15, "fdn": 2.38e-6},
        {"label": "AGN", "flux": 2.77e-15, "fdn": 8.15e-7},
        {"label": "Blazar", "flux": 2.61e-13, "fdn": 9.04e-10}
      ]},
      "mark": {"type": "text", "font": "Liberation Sans", "fontSize": 95, "align": "left", "baseline": "alphabetic", "color": "black", "clip": false},
      "encoding": {
        "x": {"field": "flux", "type": "quantitative", "scale": {"type": "log", "domain": [1e-15, 3e-6], "nice": false}, "axis": null},
        "y": {"field": "fdn", "type": "quantitative", "scale": {"type": "log", "domain": [1e-11, 1e-5], "nice": false}, "axis": null},
        "text": {"field": "label"}
      }
    },
    {
      "description": "instrument captions",
      "data": {"values": [
        {"label": "Fermi", "flux": 4.16e-9, "fdn": 2.13e-6},
        {"label": "EGRET", "flux": 1.37e-7, "fdn": 1.07e-8}
      ]},
      "mark": {"type": "text", "font": "Liberation Sans", "fontSize": 58, "align": "left", "baseline": "alphabetic", "color": "black", "clip": false},
      "encoding": {
        "x": {"field": "flux", "type": "quantitative", "scale": {"type": "log", "domain": [1e-15, 3e-6], "nice": false}, "axis": null},
        "y": {"field": "fdn", "type": "quantitative", "scale": {"type": "log", "domain": [1e-11, 1e-5], "nice": false}, "axis": null},
        "text": {"field": "label"}
      }
    }
  ],
  "resolve": {"axis": {"x": "independent", "y": "independent"}}
}
